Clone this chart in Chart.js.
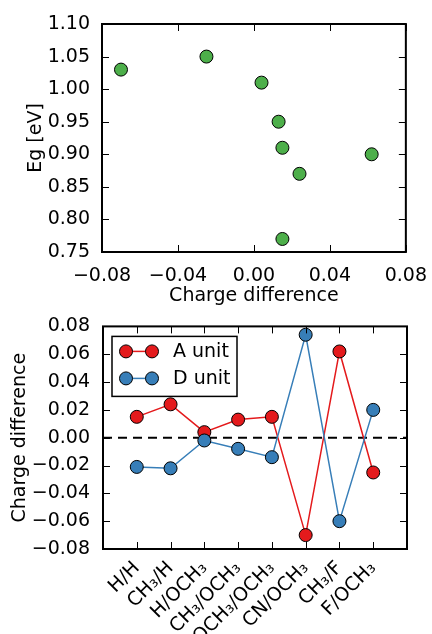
<!DOCTYPE html>
<html lang="en">
<head>
  <meta charset="UTF-8" />
  <title>Band gap and unit charge difference</title>
  <script src="https://cdn.jsdelivr.net/npm/chart.js"></script>
  <style>
    html, body { margin: 0; padding: 0; background: #fff; }
    #topBox { position: absolute; left: 0; top: 0; width: 432px; height: 310px; }
    #botBox { position: absolute; left: 0; top: 310px; width: 432px; height: 324px; }
  </style>
</head>
<body>

  <div id="topBox"><canvas id="gapChart"></canvas></div>
  <div id="botBox"><canvas id="unitChart"></canvas></div>

  <script>
    // top panel: band gap against charge difference
    const chargeDiff = [-0.070, -0.025, 0.004, 0.013, 0.015, 0.024, 0.062, 0.015];
    const bandGap = [1.03, 1.05, 1.01, 0.95, 0.91, 0.87, 0.90, 0.77];

    // bottom panel: charge on each unit per substituent pair
    const substituents = ['H/H', 'CH₃/H', 'H/OCH₃', 'CH₃/OCH₃', 'OCH₃/OCH₃', 'CN/OCH₃', 'CH₃/F', 'F/OCH₃'];
    const aUnit = [0.015, 0.024, 0.004, 0.013, 0.015, -0.070, 0.062, -0.025];
    const dUnit = [-0.021, -0.022, -0.002, -0.008, -0.014, 0.074, -0.060, 0.020];

    // tick labels
    const diffTicks = [-0.08, -0.04, 0.00, 0.04, 0.08];
    const gapTicks = [0.75, 0.80, 0.85, 0.90, 0.95, 1.00, 1.05, 1.10];
    const unitTicks = [-0.08, -0.06, -0.04, -0.02, 0.00, 0.02, 0.04, 0.06, 0.08];

    const FONT = { family: 'DejaVu Sans', size: 19 };
    Chart.defaults.font.family = 'DejaVu Sans';
    Chart.defaults.color = '#000';

    const fmt = v => (v < -1e-9 ? '\u2212' : '') + Math.abs(v).toFixed(2);

    // black frame plus inward ticks on all four sides (matplotlib classic look)
    const frame = {
      id: 'frame',
      afterDatasetsDraw(chart) {
        const { ctx, chartArea: a, scales } = chart;
        ctx.save();
        ctx.strokeStyle = '#000';
        ctx.lineWidth = 1;
        ctx.beginPath();
        scales.x.ticks.forEach(t => {
          const px = Math.round(scales.x.getPixelForValue(t.value)) + 0.5;
          ctx.moveTo(px, a.bottom); ctx.lineTo(px, a.bottom - 7);
          ctx.moveTo(px, a.top); ctx.lineTo(px, a.top + 7);
        });
        scales.y.ticks.forEach(t => {
          const py = Math.round(scales.y.getPixelForValue(t.value)) + 0.5;
          ctx.moveTo(a.left, py); ctx.lineTo(a.left + 7, py);
          ctx.moveTo(a.right, py); ctx.lineTo(a.right - 7, py);
        });
        ctx.stroke();
        ctx.lineWidth = 2;
        ctx.strokeRect(a.left, a.top, a.right - a.left, a.bottom - a.top);
        ctx.restore();
      }
    };

    // framed legend box, line with two markers per entry
    const boxLegend = {
      id: 'boxLegend',
      afterDraw(chart) {
        const { ctx, chartArea: a } = chart;
        const x0 = a.left + 9, y0 = a.top + 10;
        ctx.save();
        ctx.fillStyle = '#fff';
        ctx.fillRect(x0, y0, 125, 60);
        ctx.strokeStyle = '#000';
        ctx.lineWidth = 1.5;
        ctx.strokeRect(x0, y0, 125, 60);
        chart.data.datasets.slice(0, 2).forEach((ds, i) => {
          const y = y0 + 15 + i * 27;
          ctx.strokeStyle = ds.borderColor;
          ctx.lineWidth = 1.5;
          ctx.beginPath();
          ctx.moveTo(x0 + 14, y); ctx.lineTo(x0 + 40, y);
          ctx.stroke();
          [x0 + 14, x0 + 40].forEach(cx => {
            ctx.beginPath();
            ctx.arc(cx, y, 6.5, 0, Math.PI * 2);
            ctx.fillStyle = ds.backgroundColor;
            ctx.fill();
            ctx.lineWidth = 1;
            ctx.strokeStyle = '#000';
            ctx.stroke();
          });
          ctx.fillStyle = '#000';
          ctx.font = '19px "DejaVu Sans"';
          ctx.textBaseline = 'middle';
          ctx.textAlign = 'left';
          ctx.fillText(ds.label, x0 + 61, y + 1);
        });
        ctx.restore();
      }
    };

    // Eg vs charge difference
    new Chart(document.getElementById('gapChart'), {
      type: 'scatter',
      data: {
        datasets: [{
          label: 'Eg',
          data: chargeDiff.map((x, i) => ({ x, y: bandGap[i] })),
          backgroundColor: '#4daf4a',
          borderColor: '#000',
          borderWidth: 1,
          pointRadius: 6.5
        }]
      },
      options: {
        responsive: true,
        maintainAspectRatio: false,
        animation: false,
        layout: { padding: { left: 0, right: 25, top: 24, bottom: 0 } },
        plugins: { legend: { display: false }, tooltip: { enabled: false } },
        scales: {
          x: {
            type: 'linear', min: -0.08, max: 0.08,
            afterBuildTicks: s => { s.ticks = diffTicks.map(v => ({ value: v })); },
            afterFit: s => { s.height = 58; },
            grid: { display: false },
            border: { display: false },
            ticks: { font: FONT, padding: 5, callback: v => fmt(v) },
            title: { display: true, text: 'Charge difference', font: FONT, padding: { top: 0, bottom: 3 } }
          },
          y: {
            min: 0.75, max: 1.10,
            afterBuildTicks: s => { s.ticks = gapTicks.map(v => ({ value: v })); },
            afterFit: s => { s.width = 102; },
            grid: { display: false },
            border: { display: false },
            ticks: { font: FONT, padding: 4, callback: v => fmt(v) },
            title: { display: true, text: 'Eg [eV]', font: FONT, padding: { top: 25, bottom: 0 } }
          }
        }
      },
      plugins: [frame]
    });

    // A / D unit charge per substituent pair
    new Chart(document.getElementById('unitChart'), {
      type: 'line',
      data: {
        datasets: [
          {
            label: 'A unit',
            data: aUnit.map((y, i) => ({ x: i, y })),
            borderColor: '#e41a1c',
            backgroundColor: '#e41a1c',
            borderWidth: 1.5,
            pointRadius: 6.5,
            pointBorderColor: '#000',
            pointBorderWidth: 1,
            order: 2
          },
          {
            label: 'D unit',
            data: dUnit.map((y, i) => ({ x: i, y })),
            borderColor: '#377eb8',
            backgroundColor: '#377eb8',
            borderWidth: 1.5,
            pointRadius: 6.5,
            pointBorderColor: '#000',
            pointBorderWidth: 1,
            order: 1
          },
          {
            label: 'zero',
            data: [{ x: -1, y: 0 }, { x: 8, y: 0 }],
            borderColor: '#000',
            borderWidth: 2,
            borderDash: [9, 6],
            pointRadius: 0,
            order: 3
          }
        ]
      },
      options: {
        responsive: true,
        maintainAspectRatio: false,
        animation: false,
        layout: { padding: { left: 0, right: 25, top: 11, bottom: 0 } },
        plugins: { legend: { display: false }, tooltip: { enabled: false } },
        scales: {
          x: {
            type: 'linear', min: -1, max: 8,
            afterBuildTicks: s => { s.ticks = substituents.map((_, i) => ({ value: i })); },
            afterFit: s => { s.height = 85; },
            grid: { display: false },
            border: { display: false },
            ticks: {
              font: FONT, padding: 0, autoSkip: false,
              minRotation: 45, maxRotation: 45,
              callback: v => substituents[v]
            }
          },
          y: {
            min: -0.08, max: 0.08,
            afterBuildTicks: s => { s.ticks = unitTicks.map(v => ({ value: v })); },
            afterFit: s => { s.width = 103; },
            grid: { display: false },
            border: { display: false },
            ticks: { font: FONT, padding: 5, callback: v => fmt(v) },
            title: { display: true, text: 'Charge difference', font: FONT, padding: { top: 9, bottom: 0 } }
          }
        }
      },
      plugins: [frame, boxLegend]
    });
  </script>
</body>
</html>
